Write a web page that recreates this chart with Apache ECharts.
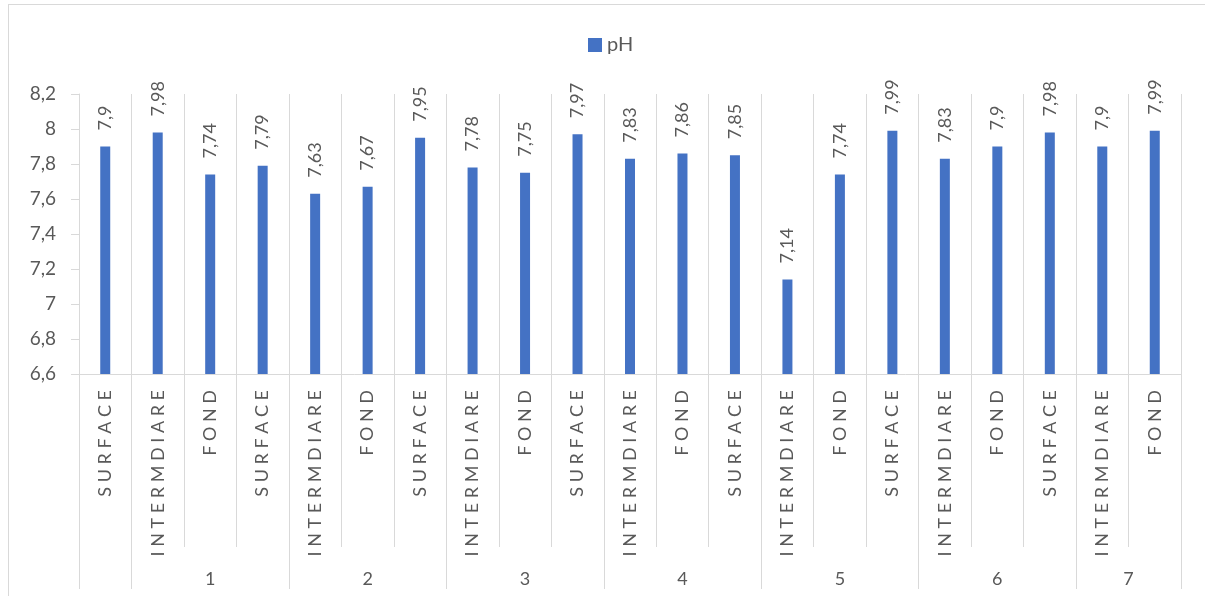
<!DOCTYPE html>
<html>
<head>
<meta charset="utf-8">
<script src="https://cdn.jsdelivr.net/npm/echarts@6/dist/echarts.min.js"></script>
<style>
  html, body { margin: 0; padding: 0; background: #ffffff; }
  #frame { position: absolute; left: 8px; top: 4px; width: 1300px; height: 700px;
           border: 1px solid #d9d9d9; z-index: 0; }
  #chart { position: absolute; left: 0; top: 0; width: 1205px; height: 596px; z-index: 1; }
</style>
</head>
<body>
<div id="frame"></div>
<div id="chart"></div>
<script>
// Sampling depth at each station
const depths = [
  'SURFACE', 'INTERMDIARE', 'FOND', 'SURFACE', 'INTERMDIARE', 'FOND', 'SURFACE',
  'INTERMDIARE', 'FOND', 'SURFACE', 'INTERMDIARE', 'FOND', 'SURFACE', 'INTERMDIARE',
  'FOND', 'SURFACE', 'INTERMDIARE', 'FOND', 'SURFACE', 'INTERMDIARE', 'FOND'
];
// Measured pH
const phValues = [
  7.9, 7.98, 7.74, 7.79, 7.63, 7.67, 7.95, 7.78, 7.75, 7.97, 7.83,
  7.86, 7.85, 7.14, 7.74, 7.99, 7.83, 7.9, 7.98, 7.9, 7.99
];
// Station groups along the axis and how many samples each covers
const stationNames = ['', '1', '2', '3', '4', '5', '6', '7'];
const stationSizes = [1, 3, 3, 3, 3, 3, 3, 2];
// Value axis range
const yMin = 6.6, yMax = 8.2, yStep = 0.2;

// Boundaries and centres of each station, in category units
const bounds = [0];
stationSizes.forEach(n => bounds.push(bounds[bounds.length - 1] + n));
const centres = [];
const centreName = {};
stationNames.forEach((name, i) => {
  if (!name) return;
  const c = (bounds[i] + bounds[i + 1]) / 2;
  centres.push(c);
  centreName[c] = name;
});

const FONT = 'Lato';
const TXT = '#595959';
const LINE = '#d9d9d9';
const comma = v => String(Math.round(v * 100) / 100).replace('.', ',');
// widely tracked capitals for the depth labels
const spaced = s => s.split('').join(' ');

const chart = echarts.init(document.getElementById('chart'), null, { renderer: 'canvas' });
chart.setOption({
  animation: false,
  textStyle: { fontFamily: FONT },
  legend: {
    top: 30, left: 583,
    icon: 'rect', itemWidth: 14, itemHeight: 14, itemGap: 6,
    textStyle: { fontFamily: FONT, fontSize: 20, color: TXT },
    data: ['pH']
  },
  grid: { left: 79, right: 24, top: 94, bottom: 222, containLabel: false },
  xAxis: [
    {
      type: 'category',
      data: depths,
      boundaryGap: true,
      position: 'bottom',
      axisLine: { show: true, lineStyle: { color: LINE, width: 1 } },
      axisTick: { show: true, interval: 0, length: 173, lineStyle: { color: LINE, width: 1 } },
      splitLine: { show: true, interval: 0, lineStyle: { color: LINE, width: 1 } },
      axisLabel: {
        interval: 0, rotate: 90, margin: 16,
        fontFamily: FONT, fontSize: 18, color: TXT,
        formatter: v => spaced(v)
      }
    },
    {
      type: 'value',
      min: 0, max: depths.length,
      position: 'bottom',
      axisLine: { show: false },
      splitLine: { show: false },
      axisTick: {
        show: true, length: 215,
        customValues: bounds,
        lineStyle: { color: LINE, width: 1 }
      },
      axisLabel: {
        show: true, margin: 196,
        customValues: centres,
        fontFamily: FONT, fontSize: 18, color: TXT,
        formatter: v => centreName[v] || ''
      }
    }
  ],
  yAxis: {
    type: 'value',
    min: yMin, max: yMax, interval: yStep,
    axisLine: { show: true, lineStyle: { color: LINE, width: 1 } },
    axisTick: { show: true, length: 8, lineStyle: { color: LINE, width: 1 } },
    splitLine: { show: false },
    axisLabel: { margin: 23, fontFamily: FONT, fontSize: 19, color: TXT, formatter: comma }
  },
  series: [{
    name: 'pH',
    type: 'bar',
    xAxisIndex: 0,
    data: phValues,
    barWidth: 10,
    itemStyle: { color: '#4472c4' },
    label: {
      show: true, position: 'top', rotate: 90, distance: 16,
      align: 'left', verticalAlign: 'middle',
      fontFamily: FONT, fontSize: 18, color: TXT,
      formatter: p => comma(p.value)
    }
  }]
});
</script>
</body>
</html>
